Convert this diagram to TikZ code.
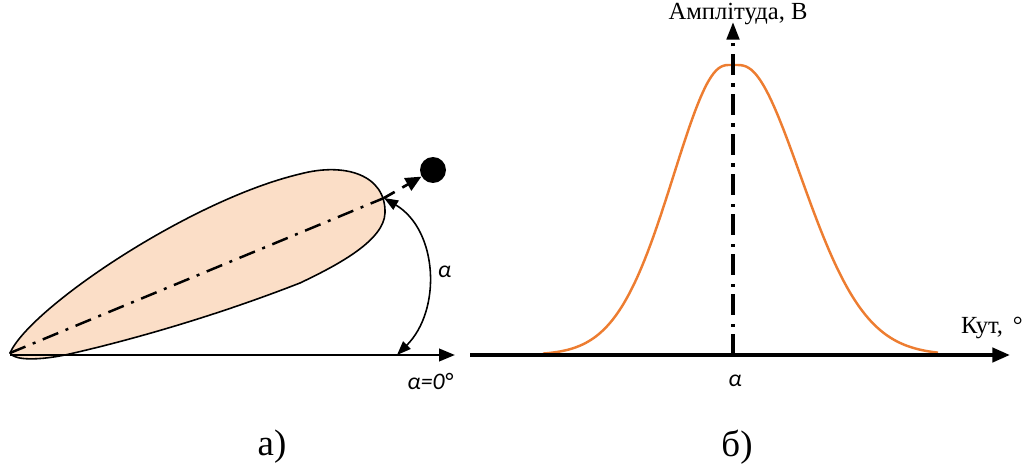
\documentclass[tikz,border=0pt]{standalone}
\usepackage{fontspec}
\setmainfont{Liberation Serif}
\newfontfamily\calib{Carlito}
\usetikzlibrary{arrows.meta, positioning}
\definecolor{lobefill}{RGB}{251, 222, 199}
\definecolor{curveorange}{RGB}{237, 125, 49}
\tikzset{
  axisline/.style  = {-{Triangle[length=9pt, width=7pt]}, line width=1.5pt},
  axisthick/.style = {-{Triangle[length=10pt, width=8pt]}, line width=2.2pt},
  lobe/.style      = {fill=lobefill, draw=black, line width=0.9pt},
  dirline/.style   = {line width=1.4pt, dash pattern=on 9.5pt off 4.5pt on 1.7pt off 4.5pt},
  vertline/.style  = {line width=2.1pt, dash pattern=on 12pt off 4pt on 1.8pt off 5pt,
                      -{Triangle[length=10pt, width=7pt]}},
  beamarrow/.style = {-{Triangle[length=9pt, width=8pt]}, line width=1.5pt, dash pattern=on 7pt off 5pt},
  anglearc/.style  = {{Triangle[length=8pt, width=6pt]}-{Triangle[length=8pt, width=6pt]}, line width=0.9pt},
  gauss/.style     = {curveorange, line width=1.4pt},
  mathlbl/.style   = {font=\calib\itshape\fontsize{13.5}{15}\selectfont},
  txtlbl/.style    = {font=\fontsize{14}{16}\selectfont},
  caplbl/.style    = {font=\fontsize{21}{24}\selectfont},
}
\begin{document}
\begin{tikzpicture}[x=0.02cm, y=-0.02cm]
\useasboundingbox (0,0) rectangle (1025,473);

% а) lobe of the pattern
\coordinate (apex) at (10,353);
\coordinate (tip) at (384,198);
\coordinate (zeroend) at (455,355);
\coordinate (arcend) at (397,355);

\filldraw[lobe] (apex) .. controls (30,308) and (190,200) .. (300,174)
  .. controls (345,162) and (386,175) .. (385,213)
  .. controls (384,240) and (340,264) .. (300,283)
  .. controls (200,322) and (110,345) .. (65,355)
  .. controls (40,360) and (15,361) .. (apex) -- cycle;

\draw[dirline] (apex) -- (tip);
\draw[axisline] (apex |- zeroend) -- (zeroend);

\node[circle, fill=black, inner sep=0pt, minimum size=0.52cm] (ball) at (433,170) {};
\draw[beamarrow] (tip) -- (ball);

\draw[anglearc] (tip) .. controls (438,230) and (442,310) .. (arcend)
  node[pos=0.5, right=2pt, mathlbl] (alpha) {α};
\node[mathlbl] (zerolbl) at (430,381) {α=0°};

\node[caplbl] (capa) at (272,447) {а)};

% б) amplitude vs angle
\coordinate (hstart) at (470,355);
\coordinate (hend) at (1010,355);
\coordinate (vbase) at (733,355);
\coordinate (vtop) at (733,22);

\draw[gauss] plot[domain=-190:0, samples=80, smooth]
  ({733+\x}, {355-290*exp(-((\x/82)^4)/((\x/82)^2+0.05))});
\draw[gauss] plot[domain=0:205, samples=80, smooth]
  ({733+\x}, {355-290*exp(-((\x/93)^4)/((\x/93)^2+0.05))});
\draw[axisthick] (hstart) -- (hend);
\draw[vertline] (vbase) -- (vtop);

\node[txtlbl] (ampl) at (738,14) {Амплітуда, В};
\node[txtlbl] (kut) at (992,328) {Кут,\hspace{0.15em} °};
\node[mathlbl] (alphab) at (735,381) {α};
\node[caplbl] (capb) at (737,447) {б)};
\end{tikzpicture}
\end{document}
